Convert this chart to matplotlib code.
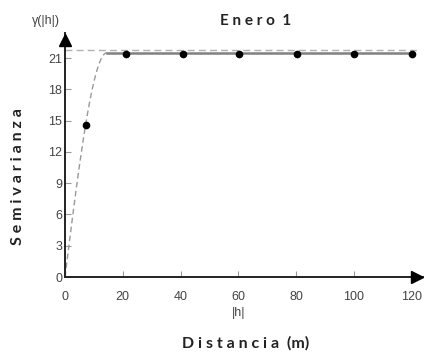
import numpy as np
import matplotlib
matplotlib.use("Agg")
import matplotlib.pyplot as plt
from matplotlib import font_manager as fm

# ---- data ----
lag = [7.2, 21.0, 40.7, 60.3, 80.2, 100.0, 120.0]
semivar = [14.6, 21.35, 21.35, 21.35, 21.35, 21.35, 21.35]
model_nugget = 0.0
model_sill = 21.5
model_range = 14.5
sample_variance = 21.75
xticks = [0, 20, 40, 60, 80, 100, 120]
yticks = [0, 3, 6, 9, 12, 15, 18, 21]
title = "E n e r o  1"
xlabel = "D i s t a n c i a  (m)"
ylabel = "S e m i v a r i a n z a"

names = {f.name for f in fm.fontManager.ttflist}
narrow = ["Liberation Sans Narrow", "DejaVu Sans"] if "Liberation Sans Narrow" in names else ["Liberation Sans", "DejaVu Sans"]

fig = plt.figure(figsize=(4.24, 3.56), dpi=100)
ax = fig.add_axes([65/424, (356-277)/356, 358/424, 244/356])
ax.set_xlim(0, 123.9)
ax.set_ylim(0, 23.4)

def spherical(h):
    h = np.asarray(h, float)
    r = h / model_range
    return np.where(h < model_range,
                    model_nugget + (model_sill - model_nugget) * (1.5 * r - 0.5 * r**3),
                    model_sill)

h1 = np.linspace(0, model_range, 100)
h2 = np.linspace(model_range, 120, 50)
ax.plot(h1, spherical(h1), color="#999999", lw=1.0, ls=(0, (4, 2.5)), zorder=2)
ax.plot(h2, spherical(h2), color="#808080", lw=1.8, zorder=2)
ax.plot([0, 122], [sample_variance, sample_variance], color="#b0b0b0", lw=1.0, ls=(0, (5, 3)), zorder=1)
ax.plot(lag, semivar, "o", color="black", ms=4.5, zorder=3)

for s in ["top", "right"]:
    ax.spines[s].set_visible(False)
for s in ["left", "bottom"]:
    ax.spines[s].set_linewidth(1.4)
    ax.spines[s].set_color("#222222")

ax.set_xticks(xticks)
ax.set_yticks(yticks)
ax.tick_params(axis="x", direction="in", length=4, color="#999999", pad=10, labelsize=9, labelcolor="#444444")
ax.tick_params(axis="y", direction="in", length=4, color="#999999", pad=2, labelsize=9, labelcolor="#444444")
for lab in ax.get_xticklabels() + ax.get_yticklabels():
    lab.set_family(narrow)

# arrows
ax.plot(121.7, 0, marker=">", color="black", ms=9, clip_on=False, zorder=4)
ax.plot(0, 22.7, marker="^", color="black", ms=9, clip_on=False, zorder=4)

bold_fam = ["Lato", "DejaVu Sans"]
fig.text(256/424, 1 - 21/356, title, ha="center", va="center", fontsize=11, fontweight="bold", family=bold_fam, color="#222222")
fig.text(246/424, 1 - 343/356, xlabel, ha="center", va="center", fontsize=11.5, fontweight="bold", family=bold_fam, color="#222222")
fig.text(18/424, 1 - 177/356, ylabel, ha="center", va="center", rotation=90, fontsize=11.5, fontweight="bold", family=bold_fam, color="#222222")
fig.text(239/424, 1 - 313/356, "|h|", ha="center", va="center", fontsize=9, family=narrow, color="#444444")
fig.text(46/424, 1 - 21/356, "γ(|h|)", ha="center", va="center", fontsize=9, family=narrow, color="#444444")

fig.savefig("out.png", dpi=100)
